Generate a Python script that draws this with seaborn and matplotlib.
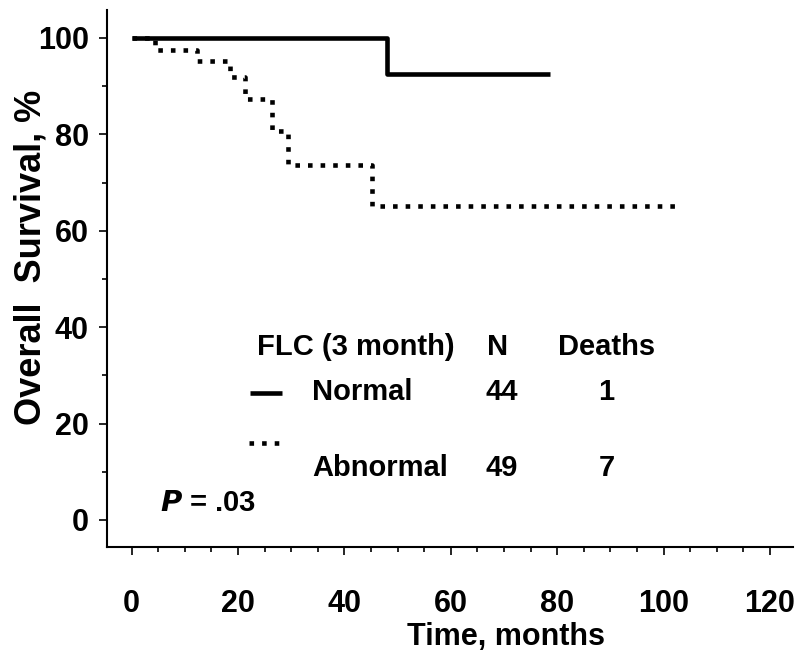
import matplotlib
matplotlib.use("Agg")
import matplotlib.pyplot as plt
from matplotlib.ticker import MultipleLocator
import numpy as np
import pandas as pd
import seaborn as sns

# --- Data ---
normal_time = [0, 48, 78.6]
normal_surv = [100, 92.5, 92.5]
abnormal_time = [0, 4.5, 12.3, 18.6, 21.4, 26.4, 29.5, 45.2, 103]
abnormal_surv = [100, 97.6, 95.3, 92.0, 87.3, 80.8, 73.7, 65.2, 65.2]

groups = ["Normal", "Abnormal"]
group_n = [44, 49]
group_deaths = [1, 7]
p_text = ".03"

x_ticks = [0, 20, 40, 60, 80, 100, 120]
y_ticks = [0, 20, 40, 60, 80, 100]

# --- Style ---
sns.set_style("ticks", {"axes.edgecolor": "black", "text.color": "black",
                        "xtick.color": "black", "ytick.color": "black",
                        "axes.labelcolor": "black"})
FONT = ["Liberation Sans Narrow", "Liberation Sans", "DejaVu Sans"]
plt.rcParams["font.family"] = FONT
plt.rcParams["font.weight"] = "bold"

df = pd.concat([
    pd.DataFrame({"time": normal_time, "surv": normal_surv, "group": "Normal"}),
    pd.DataFrame({"time": abnormal_time, "surv": abnormal_surv, "group": "Abnormal"}),
], ignore_index=True)

fig = plt.figure(figsize=(8.09, 6.55), dpi=100)
ax = fig.add_axes([0.1323, 0.1649, 0.8477, 0.8198])

sns.lineplot(data=df, x="time", y="surv", style="group", style_order=groups,
             dashes=[(None, None), (1, 1.75)], color="black", linewidth=3.3,
             drawstyle="steps-post", estimator=None, sort=False, legend=False, ax=ax)
for line in ax.get_lines():
    line.set_dash_capstyle("butt")
    line.set_solid_capstyle("butt")

ax.set_xlim(-4.6, 124.3)
ax.set_ylim(-5.6, 105.8)
ax.set_xticks(x_ticks)
ax.set_yticks(y_ticks)
ax.xaxis.set_minor_locator(MultipleLocator(5))
ax.yaxis.set_minor_locator(MultipleLocator(10))
ax.tick_params(which="major", direction="out", length=6, width=1.2, labelsize=22, pad=24, axis="x")
ax.tick_params(which="major", direction="out", length=6, width=1.2, labelsize=22, pad=7, axis="y")
ax.tick_params(which="minor", direction="out", length=3.5, width=1.2)
for lab in ax.get_xticklabels() + ax.get_yticklabels():
    lab.set_fontweight("bold")

sns.despine(ax=ax)
for side in ["left", "bottom"]:
    ax.spines[side].set_linewidth(1.5)

ax.set_xlabel("Time, months", fontsize=22, fontweight="bold")
ax.set_ylabel("Overall  Survival, %", fontsize=26, fontweight="bold")
ax.xaxis.set_label_coords(0.582, -0.14)
ax.yaxis.set_label_coords(-0.086, 0.54)

# --- Legend table ---
txt = dict(fontsize=21, fontweight="bold", va="center", color="black")
ax.text(23.6, 35.9, "FLC (3 month)", ha="left", **txt)
ax.text(68.8, 35.9, "N", ha="center", **txt)
ax.text(89.2, 35.9, "Deaths", ha="center", **txt)
row_y = [26.6, 10.8]
for name, n, d, yy in zip(groups, group_n, group_deaths, row_y):
    ax.text(33.9, yy, name, ha="left", **txt)
    ax.text(69.5, yy, str(n), ha="center", **txt)
    ax.text(89.3, yy, str(d), ha="center", **txt)

# legend glyphs
ax.plot([22.3, 28.3], [26.3, 26.3], color="black", linewidth=3.3, solid_capstyle="butt")
ax.plot([22.0, 28.0], [16.0, 16.0], color="black", linewidth=3.3, linestyle=(0, (1, 1.75)),
        dash_capstyle="butt")

ax.text(5.4, 3.5, "$\\mathbfit{P}$ = " + p_text, ha="left", **txt)

fig.savefig("out.png", dpi=100, facecolor="white")
